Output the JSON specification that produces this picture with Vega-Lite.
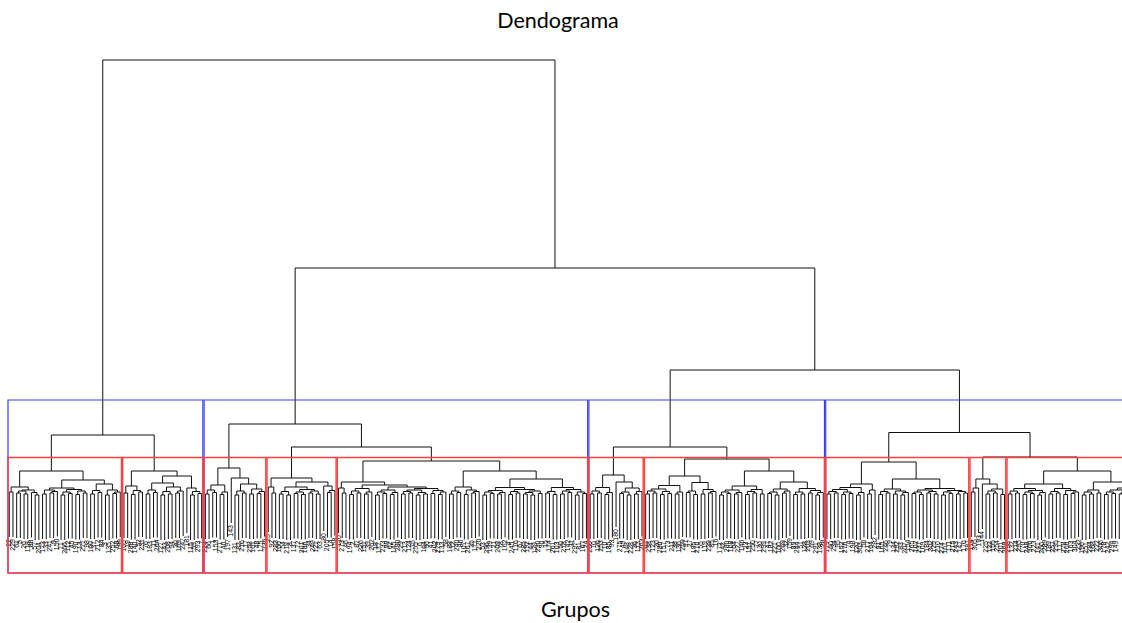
{
"$schema":"https://vega.github.io/schema/vega-lite/v6.json",
"width":1122,"height":623,"autosize":"none","padding":0,
"background":"white",
"config":{"view":{"stroke":null}},
"title":{"text":"Dendograma","font":"Lato","fontSize":21.5,"fontWeight":"normal","color":"#000000","anchor":"middle","frame":"group","offset":-32,"dx":-3},
"datasets":{
"fusoes":[
{"x1":1,"x2":2,"h":4.8,"h1":0.3,"h2":0.3,"r1":"22","r2":"229"},
{"x1":3,"x2":4,"h":4.7,"h1":0.2,"h2":0.2,"r1":"61","r2":"5"},
{"x1":5,"x2":6,"h":4.6,"h1":0.1,"h2":0.1,"r1":"26","r2":"118"},
{"x1":3.5,"x2":5.5,"h":4.9,"h1":4.7,"h2":4.6},
{"x1":8,"x2":9,"h":4.5,"h1":0,"h2":0,"r1":"57","r2":"204"},
{"x1":7,"x2":8.5,"h":4.75,"h1":0.25,"h2":4.5,"r1":"88"},
{"x1":4.5,"x2":7.75,"h":5.0,"h1":4.9,"h2":4.75},
{"x1":1.5,"x2":6.125,"h":5.3,"h1":4.8,"h2":5.0},
{"x1":10,"x2":11,"h":4.6,"h1":0.1,"h2":0.1,"r1":"173","r2":"33"},
{"x1":12,"x2":13,"h":4.7,"h1":0.2,"h2":0.2,"r1":"241","r2":"9"},
{"x1":12.5,"x2":14,"h":4.85,"h1":4.7,"h2":0.35,"r2":"150"},
{"x1":10.5,"x2":13.25,"h":5.0,"h1":4.6,"h2":4.85},
{"x1":15,"x2":16,"h":4.5,"h1":0,"h2":0,"r1":"71","r2":"266"},
{"x1":17,"x2":18,"h":4.65,"h1":0.15,"h2":0.15,"r1":"112","r2":"45"},
{"x1":15.5,"x2":17.5,"h":4.8,"h1":4.5,"h2":4.65},
{"x1":19,"x2":20,"h":4.55,"h1":0.05,"h2":0.05,"r1":"190","r2":"13"},
{"x1":21,"x2":22,"h":4.7,"h1":0.2,"h2":0.2,"r1":"277","r2":"98"},
{"x1":19.5,"x2":21.5,"h":4.9,"h1":4.55,"h2":4.7},
{"x1":16.5,"x2":20.5,"h":5.05,"h1":4.8,"h2":4.9},
{"x1":11.875,"x2":18.5,"h":5.2,"h1":5.0,"h2":5.05},
{"x1":23,"x2":24,"h":4.6,"h1":0.1,"h2":0.1,"r1":"160","r2":"37"},
{"x1":25,"x2":26,"h":4.75,"h1":0.25,"h2":0.25,"r1":"212","r2":"84"},
{"x1":23.5,"x2":25.5,"h":4.95,"h1":4.6,"h2":4.75},
{"x1":27,"x2":28,"h":4.5,"h1":0,"h2":0,"r1":"3","r2":"135"},
{"x1":29,"x2":30,"h":4.65,"h1":0.15,"h2":0.15,"r1":"252","r2":"68"},
{"x1":29.5,"x2":31,"h":4.8,"h1":4.65,"h2":0.3,"r2":"199"},
{"x1":27.5,"x2":30.25,"h":5.0,"h1":4.5,"h2":4.8},
{"x1":24.5,"x2":28.875,"h":5.6,"h1":4.95,"h2":5.0},
{"x1":15.19,"x2":26.69,"h":6.0,"h1":5.2,"h2":5.6},
{"x1":3.81,"x2":20.94,"h":6.9,"h1":5.3,"h2":6.0},
{"x1":32,"x2":33,"h":4.7,"h1":0.2,"h2":0.2,"r1":"105","r2":"19"},
{"x1":34,"x2":35,"h":4.55,"h1":0.05,"h2":0.05,"r1":"288","r2":"140"},
{"x1":36,"x2":37,"h":4.8,"h1":0.3,"h2":0.3,"r1":"52","r2":"231"},
{"x1":34.5,"x2":36.5,"h":4.95,"h1":4.55,"h2":4.8},
{"x1":32.5,"x2":35.5,"h":5.4,"h1":4.7,"h2":4.95},
{"x1":38,"x2":39,"h":4.6,"h1":0.1,"h2":0.1,"r1":"76","r2":"183"},
{"x1":40,"x2":41,"h":4.75,"h1":0.25,"h2":0.25,"r1":"11","r2":"264"},
{"x1":38.5,"x2":40.5,"h":5.0,"h1":4.6,"h2":4.75},
{"x1":42,"x2":43,"h":4.5,"h1":0,"h2":0,"r1":"127","r2":"43"},
{"x1":44,"x2":45,"h":4.6,"h1":0.1,"h2":0.1,"r1":"208","r2":"94"},
{"x1":42.5,"x2":44.5,"h":4.85,"h1":4.5,"h2":4.6},
{"x1":46,"x2":47,"h":4.7,"h1":0.2,"h2":0.2,"r1":"30","r2":"169"},
{"x1":46.5,"x2":48,"h":4.9,"h1":4.7,"h2":0.4,"r2":"247"},
{"x1":43.5,"x2":47.25,"h":5.3,"h1":4.85,"h2":4.9},
{"x1":39.5,"x2":45.375,"h":5.7,"h1":5.0,"h2":5.3},
{"x1":50,"x2":51,"h":4.5,"h1":0,"h2":0,"r1":"115","r2":"59"},
{"x1":52,"x2":53,"h":4.65,"h1":0.15,"h2":0.15,"r1":"293","r2":"7"},
{"x1":50.5,"x2":52.5,"h":4.85,"h1":4.5,"h2":4.65},
{"x1":49,"x2":51.5,"h":5.2,"h1":0.7,"h2":4.85,"r1":"181"},
{"x1":42.44,"x2":50.25,"h":6.4,"h1":5.7,"h2":5.2},
{"x1":34,"x2":46.35,"h":6.9,"h1":5.4,"h2":6.4},
{"x1":12.375,"x2":40.17,"h":10.5,"h1":6.9,"h2":6.9},
{"x1":54,"x2":55,"h":4.6,"h1":0.1,"h2":0.1,"r1":"224","r2":"66"},
{"x1":56,"x2":57,"h":4.75,"h1":0.25,"h2":0.25,"r1":"1","r2":"153"},
{"x1":54.5,"x2":56.5,"h":5.0,"h1":4.6,"h2":4.75},
{"x1":58,"x2":59,"h":4.55,"h1":0.05,"h2":0.05,"r1":"271","r2":"40"},
{"x1":58.5,"x2":60,"h":4.8,"h1":4.55,"h2":0.3,"r2":"197"},
{"x1":55.5,"x2":59.25,"h":5.5,"h1":5.0,"h2":4.8},
{"x1":62,"x2":63,"h":4.5,"h1":0,"h2":0,"r1":"131","r2":"82"},
{"x1":64,"x2":65,"h":4.7,"h1":0.2,"h2":0.2,"r1":"216","r2":"17"},
{"x1":62.5,"x2":64.5,"h":4.9,"h1":4.5,"h2":4.7},
{"x1":66,"x2":67,"h":4.6,"h1":0.1,"h2":0.1,"r1":"258","r2":"101"},
{"x1":68,"x2":69,"h":4.65,"h1":0.15,"h2":0.15,"r1":"48","r2":"175"},
{"x1":68.5,"x2":70,"h":4.85,"h1":4.65,"h2":0.35,"r2":"236"},
{"x1":66.5,"x2":69.25,"h":5.1,"h1":4.6,"h2":4.85},
{"x1":63.5,"x2":67.875,"h":5.6,"h1":4.9,"h2":5.1},
{"x1":61,"x2":65.69,"h":6.2,"h1":1.7,"h2":5.6,"r1":"143"},
{"x1":57.375,"x2":63.35,"h":7.2,"h1":5.5,"h2":6.2},
{"x1":72,"x2":73,"h":4.7,"h1":0.2,"h2":0.2,"r1":"92","r2":"283"},
{"x1":71,"x2":72.5,"h":5.3,"h1":0.8,"h2":4.7,"r1":"25"},
{"x1":74,"x2":75,"h":4.6,"h1":0.1,"h2":0.1,"r1":"166","r2":"54"},
{"x1":76,"x2":77,"h":4.5,"h1":0,"h2":0,"r1":"219","r2":"8"},
{"x1":74.5,"x2":76.5,"h":4.85,"h1":4.6,"h2":4.5},
{"x1":78,"x2":79,"h":4.65,"h1":0.15,"h2":0.15,"r1":"137","r2":"72"},
{"x1":80,"x2":81,"h":4.55,"h1":0.05,"h2":0.05,"r1":"301","r2":"186"},
{"x1":78.5,"x2":80.5,"h":4.8,"h1":4.65,"h2":4.55},
{"x1":82,"x2":83,"h":4.7,"h1":0.2,"h2":0.2,"r1":"34","r2":"249"},
{"x1":84,"x2":85,"h":4.6,"h1":0.1,"h2":0.1,"r1":"121","r2":"63"},
{"x1":82.5,"x2":84.5,"h":4.9,"h1":4.7,"h2":4.6},
{"x1":79.5,"x2":83.5,"h":5.05,"h1":4.8,"h2":4.9},
{"x1":75.5,"x2":81.5,"h":5.3,"h1":4.85,"h2":5.05},
{"x1":87,"x2":88,"h":4.75,"h1":0.25,"h2":0.25,"r1":"205","r2":"14"},
{"x1":87.5,"x2":89,"h":4.95,"h1":4.75,"h2":0.45,"r2":"158"},
{"x1":86,"x2":88.25,"h":5.4,"h1":0.9,"h2":4.95,"r1":"80"},
{"x1":78.5,"x2":87.125,"h":5.8,"h1":5.3,"h2":5.4},
{"x1":71.75,"x2":82.81,"h":6.2,"h1":5.3,"h2":5.8},
{"x1":91,"x2":92,"h":4.7,"h1":0.2,"h2":0.2,"r1":"273","r2":"46"},
{"x1":90,"x2":91.5,"h":5.2,"h1":0.7,"h2":4.7,"r1":"110"},
{"x1":93,"x2":94,"h":4.55,"h1":0.05,"h2":0.05,"r1":"194","r2":"2"},
{"x1":95,"x2":96,"h":4.7,"h1":0.2,"h2":0.2,"r1":"87","r2":"226"},
{"x1":93.5,"x2":95.5,"h":4.9,"h1":4.55,"h2":4.7},
{"x1":97,"x2":98,"h":4.6,"h1":0.1,"h2":0.1,"r1":"151","r2":"39"},
{"x1":97.5,"x2":99,"h":4.8,"h1":4.6,"h2":0.3,"r2":"262"},
{"x1":94.5,"x2":98.25,"h":5.15,"h1":4.9,"h2":4.8},
{"x1":100,"x2":101,"h":4.5,"h1":0,"h2":0,"r1":"18","r2":"177"},
{"x1":102,"x2":103,"h":4.65,"h1":0.15,"h2":0.15,"r1":"233","r2":"99"},
{"x1":100.5,"x2":102.5,"h":4.8,"h1":4.5,"h2":4.65},
{"x1":104,"x2":105,"h":4.55,"h1":0.05,"h2":0.05,"r1":"62","r2":"145"},
{"x1":104.5,"x2":106,"h":4.75,"h1":4.55,"h2":0.25,"r2":"290"},
{"x1":101.5,"x2":105.25,"h":5.0,"h1":4.8,"h2":4.75},
{"x1":107,"x2":108,"h":4.6,"h1":0.1,"h2":0.1,"r1":"29","r2":"213"},
{"x1":109,"x2":110,"h":4.7,"h1":0.2,"h2":0.2,"r1":"124","r2":"75"},
{"x1":107.5,"x2":109.5,"h":4.85,"h1":4.6,"h2":4.7},
{"x1":111,"x2":112,"h":4.5,"h1":0,"h2":0,"r1":"255","r2":"6"},
{"x1":113,"x2":114,"h":4.6,"h1":0.1,"h2":0.1,"r1":"164","r2":"96"},
{"x1":111.5,"x2":113.5,"h":4.75,"h1":4.5,"h2":4.6},
{"x1":108.5,"x2":112.5,"h":5.0,"h1":4.85,"h2":4.75},
{"x1":115,"x2":116,"h":4.65,"h1":0.15,"h2":0.15,"r1":"41","r2":"202"},
{"x1":117,"x2":118,"h":4.55,"h1":0.05,"h2":0.05,"r1":"279","r2":"133"},
{"x1":117.5,"x2":119,"h":4.8,"h1":4.55,"h2":0.3,"r2":"58"},
{"x1":115.5,"x2":118.25,"h":4.95,"h1":4.65,"h2":4.8},
{"x1":110.5,"x2":116.875,"h":5.15,"h1":5.0,"h2":4.95},
{"x1":103.375,"x2":113.69,"h":5.3,"h1":5.0,"h2":5.15},
{"x1":96.375,"x2":108.53,"h":5.5,"h1":5.15,"h2":5.3},
{"x1":90.75,"x2":102.45,"h":5.8,"h1":5.2,"h2":5.5},
{"x1":120,"x2":121,"h":4.6,"h1":0.1,"h2":0.1,"r1":"188","r2":"12"},
{"x1":122,"x2":123,"h":4.75,"h1":0.25,"h2":0.25,"r1":"240","r2":"86"},
{"x1":120.5,"x2":122.5,"h":4.9,"h1":4.6,"h2":4.75},
{"x1":124,"x2":125,"h":4.55,"h1":0.05,"h2":0.05,"r1":"107","r2":"267"},
{"x1":126,"x2":127,"h":4.7,"h1":0.2,"h2":0.2,"r1":"35","r2":"171"},
{"x1":126.5,"x2":128,"h":4.85,"h1":4.7,"h2":0.35,"r2":"220"},
{"x1":124.5,"x2":127.25,"h":5.0,"h1":4.55,"h2":4.85},
{"x1":121.5,"x2":125.875,"h":5.3,"h1":4.9,"h2":5.0},
{"x1":129,"x2":130,"h":4.5,"h1":0,"h2":0,"r1":"53","r2":"296"},
{"x1":131,"x2":132,"h":4.65,"h1":0.15,"h2":0.15,"r1":"139","r2":"21"},
{"x1":129.5,"x2":131.5,"h":4.8,"h1":4.5,"h2":4.65},
{"x1":133,"x2":134,"h":4.6,"h1":0.1,"h2":0.1,"r1":"209","r2":"78"},
{"x1":133.5,"x2":135,"h":4.75,"h1":4.6,"h2":0.25,"r2":"162"},
{"x1":130.5,"x2":134.25,"h":4.95,"h1":4.8,"h2":4.75},
{"x1":136,"x2":137,"h":4.55,"h1":0.05,"h2":0.05,"r1":"4","r2":"245"},
{"x1":138,"x2":139,"h":4.7,"h1":0.2,"h2":0.2,"r1":"116","r2":"67"},
{"x1":136.5,"x2":138.5,"h":4.85,"h1":4.55,"h2":4.7},
{"x1":140,"x2":141,"h":4.6,"h1":0.1,"h2":0.1,"r1":"285","r2":"192"},
{"x1":142,"x2":143,"h":4.5,"h1":0,"h2":0,"r1":"44","r2":"129"},
{"x1":140.5,"x2":142.5,"h":4.75,"h1":4.6,"h2":4.5},
{"x1":144,"x2":145,"h":4.65,"h1":0.15,"h2":0.15,"r1":"230","r2":"90"},
{"x1":141.5,"x2":144.5,"h":4.9,"h1":4.75,"h2":4.65},
{"x1":137.5,"x2":143,"h":5.05,"h1":4.85,"h2":4.9},
{"x1":132.375,"x2":140.25,"h":5.25,"h1":4.95,"h2":5.05},
{"x1":146,"x2":147,"h":4.7,"h1":0.2,"h2":0.2,"r1":"15","r2":"174"},
{"x1":148,"x2":149,"h":4.55,"h1":0.05,"h2":0.05,"r1":"261","r2":"103"},
{"x1":146.5,"x2":148.5,"h":4.85,"h1":4.7,"h2":4.55},
{"x1":150,"x2":151,"h":4.6,"h1":0.1,"h2":0.1,"r1":"50","r2":"218"},
{"x1":152,"x2":153,"h":4.75,"h1":0.25,"h2":0.25,"r1":"142","r2":"31"},
{"x1":150.5,"x2":152.5,"h":4.9,"h1":4.6,"h2":4.75},
{"x1":154,"x2":155,"h":4.5,"h1":0,"h2":0,"r1":"297","r2":"81"},
{"x1":156,"x2":157,"h":4.65,"h1":0.15,"h2":0.15,"r1":"167","r2":"24"},
{"x1":154.5,"x2":156.5,"h":4.8,"h1":4.5,"h2":4.65},
{"x1":151.5,"x2":155.5,"h":5.05,"h1":4.9,"h2":4.8},
{"x1":147.5,"x2":153.5,"h":5.25,"h1":4.85,"h2":5.05},
{"x1":136.31,"x2":150.5,"h":6.1,"h1":5.25,"h2":5.25},
{"x1":123.69,"x2":143.41,"h":6.9,"h1":5.3,"h2":6.1},
{"x1":96.6,"x2":133.55,"h":7.9,"h1":5.8,"h2":6.9},
{"x1":77.28,"x2":115.08,"h":9.3,"h1":6.2,"h2":7.9},
{"x1":60.36,"x2":96.18,"h":11.6,"h1":7.2,"h2":9.3},
{"x1":158,"x2":159,"h":4.6,"h1":0.1,"h2":0.1,"r1":"200","r2":"70"},
{"x1":160,"x2":161,"h":4.7,"h1":0.2,"h2":0.2,"r1":"126","r2":"253"},
{"x1":158.5,"x2":160.5,"h":4.9,"h1":4.6,"h2":4.7},
{"x1":162,"x2":163,"h":4.55,"h1":0.05,"h2":0.05,"r1":"10","r2":"185"},
{"x1":162.5,"x2":164,"h":4.75,"h1":4.55,"h2":0.25,"r2":"93"},
{"x1":159.5,"x2":163.25,"h":5.25,"h1":4.9,"h2":4.75},
{"x1":166,"x2":167,"h":4.65,"h1":0.15,"h2":0.15,"r1":"275","r2":"49"},
{"x1":168,"x2":169,"h":4.5,"h1":0,"h2":0,"r1":"148","r2":"228"},
{"x1":166.5,"x2":168.5,"h":4.8,"h1":4.65,"h2":4.5},
{"x1":170,"x2":171,"h":4.6,"h1":0.1,"h2":0.1,"r1":"36","r2":"113"},
{"x1":170.5,"x2":172,"h":4.85,"h1":4.6,"h2":0.35,"r2":"263"},
{"x1":167.5,"x2":171.25,"h":5.2,"h1":4.8,"h2":4.85},
{"x1":165,"x2":169.375,"h":5.8,"h1":1.3,"h2":5.2,"r1":"180"},
{"x1":161.375,"x2":167.19,"h":6.5,"h1":5.25,"h2":5.8},
{"x1":173,"x2":174,"h":4.6,"h1":0.1,"h2":0.1,"r1":"65","r2":"238"},
{"x1":175,"x2":176,"h":4.7,"h1":0.2,"h2":0.2,"r1":"123","r2":"20"},
{"x1":173.5,"x2":175.5,"h":4.9,"h1":4.6,"h2":4.7},
{"x1":177,"x2":178,"h":4.55,"h1":0.05,"h2":0.05,"r1":"286","r2":"157"},
{"x1":179,"x2":180,"h":4.65,"h1":0.15,"h2":0.15,"r1":"73","r2":"211"},
{"x1":177.5,"x2":179.5,"h":4.85,"h1":4.55,"h2":4.65},
{"x1":174.5,"x2":178.5,"h":5.1,"h1":4.9,"h2":4.85},
{"x1":181,"x2":182,"h":4.6,"h1":0.1,"h2":0.1,"r1":"38","r2":"136"},
{"x1":181.5,"x2":183,"h":4.8,"h1":4.6,"h2":0.3,"r2":"259"},
{"x1":176.5,"x2":182.25,"h":5.45,"h1":5.1,"h2":4.8},
{"x1":184,"x2":185,"h":4.75,"h1":0.25,"h2":0.25,"r1":"97","r2":"27"},
{"x1":186,"x2":187,"h":4.55,"h1":0.05,"h2":0.05,"r1":"195","r2":"270"},
{"x1":184.5,"x2":186.5,"h":4.9,"h1":4.75,"h2":4.55},
{"x1":188,"x2":189,"h":4.6,"h1":0.1,"h2":0.1,"r1":"55","r2":"119"},
{"x1":190,"x2":191,"h":4.7,"h1":0.2,"h2":0.2,"r1":"239","r2":"85"},
{"x1":190.5,"x2":192,"h":4.85,"h1":4.7,"h2":0.35,"r2":"16"},
{"x1":188.5,"x2":191.25,"h":5.05,"h1":4.6,"h2":4.85},
{"x1":185.5,"x2":189.875,"h":5.75,"h1":4.9,"h2":5.05},
{"x1":179.375,"x2":187.69,"h":6.4,"h1":5.45,"h2":5.75},
{"x1":193,"x2":194,"h":4.5,"h1":0,"h2":0,"r1":"172","r2":"42"},
{"x1":195,"x2":196,"h":4.65,"h1":0.15,"h2":0.15,"r1":"280","r2":"108"},
{"x1":193.5,"x2":195.5,"h":4.8,"h1":4.5,"h2":4.65},
{"x1":197,"x2":198,"h":4.6,"h1":0.1,"h2":0.1,"r1":"64","r2":"227"},
{"x1":197.5,"x2":199,"h":4.75,"h1":4.6,"h2":0.25,"r2":"146"},
{"x1":194.5,"x2":198.25,"h":5.0,"h1":4.8,"h2":4.75},
{"x1":200,"x2":201,"h":4.55,"h1":0.05,"h2":0.05,"r1":"23","r2":"191"},
{"x1":202,"x2":203,"h":4.7,"h1":0.2,"h2":0.2,"r1":"250","r2":"77"},
{"x1":200.5,"x2":202.5,"h":4.85,"h1":4.55,"h2":4.7},
{"x1":204,"x2":205,"h":4.6,"h1":0.1,"h2":0.1,"r1":"130","r2":"299"},
{"x1":201.5,"x2":204.5,"h":5.05,"h1":4.85,"h2":4.6},
{"x1":196.375,"x2":203,"h":5.4,"h1":5.0,"h2":5.05},
{"x1":206,"x2":207,"h":4.65,"h1":0.15,"h2":0.15,"r1":"47","r2":"182"},
{"x1":208,"x2":209,"h":4.5,"h1":0,"h2":0,"r1":"221","r2":"100"},
{"x1":206.5,"x2":208.5,"h":4.8,"h1":4.65,"h2":4.5},
{"x1":210,"x2":211,"h":4.7,"h1":0.2,"h2":0.2,"r1":"269","r2":"32"},
{"x1":210.5,"x2":212,"h":4.9,"h1":4.7,"h2":0.4,"r2":"159"},
{"x1":207.5,"x2":211.25,"h":5.1,"h1":4.8,"h2":4.9},
{"x1":213,"x2":214,"h":4.55,"h1":0.05,"h2":0.05,"r1":"89","r2":"244"},
{"x1":215,"x2":216,"h":4.6,"h1":0.1,"h2":0.1,"r1":"51","r2":"128"},
{"x1":213.5,"x2":215.5,"h":4.8,"h1":4.55,"h2":4.6},
{"x1":217,"x2":218,"h":4.7,"h1":0.2,"h2":0.2,"r1":"203","r2":"69"},
{"x1":219,"x2":220,"h":4.5,"h1":0,"h2":0,"r1":"291","r2":"138"},
{"x1":219.5,"x2":221,"h":4.75,"h1":4.5,"h2":0.25,"r2":"28"},
{"x1":217.5,"x2":220.25,"h":4.95,"h1":4.7,"h2":4.75},
{"x1":214.5,"x2":218.875,"h":5.15,"h1":4.8,"h2":4.95},
{"x1":209.375,"x2":216.69,"h":5.8,"h1":5.1,"h2":5.15},
{"x1":199.69,"x2":213.03,"h":6.9,"h1":5.4,"h2":5.8},
{"x1":183.53,"x2":206.36,"h":8.1,"h1":6.4,"h2":6.9},
{"x1":164.28,"x2":194.95,"h":9.3,"h1":6.5,"h2":8.1},
{"x1":222,"x2":223,"h":4.6,"h1":0.1,"h2":0.1,"r1":"179","r2":"60"},
{"x1":224,"x2":225,"h":4.7,"h1":0.2,"h2":0.2,"r1":"234","r2":"95"},
{"x1":222.5,"x2":224.5,"h":4.85,"h1":4.6,"h2":4.7},
{"x1":226,"x2":227,"h":4.55,"h1":0.05,"h2":0.05,"r1":"152","r2":"276"},
{"x1":228,"x2":229,"h":4.65,"h1":0.15,"h2":0.15,"r1":"74","r2":"198"},
{"x1":226.5,"x2":228.5,"h":4.8,"h1":4.55,"h2":4.65},
{"x1":223.5,"x2":227.5,"h":5.05,"h1":4.85,"h2":4.8},
{"x1":230,"x2":231,"h":4.5,"h1":0,"h2":0,"r1":"120","r2":"303"},
{"x1":230.5,"x2":232,"h":4.75,"h1":4.5,"h2":0.25,"r2":"56"},
{"x1":225.5,"x2":231.25,"h":5.25,"h1":5.05,"h2":4.75},
{"x1":233,"x2":234,"h":4.6,"h1":0.1,"h2":0.1,"r1":"217","r2":"104"},
{"x1":233.5,"x2":235,"h":5.0,"h1":4.6,"h2":0.5,"r2":"282"},
{"x1":228.375,"x2":234.25,"h":5.6,"h1":5.25,"h2":5.0},
{"x1":236,"x2":237,"h":4.55,"h1":0.05,"h2":0.05,"r1":"91","r2":"165"},
{"x1":238,"x2":239,"h":4.7,"h1":0.2,"h2":0.2,"r1":"246","r2":"79"},
{"x1":236.5,"x2":238.5,"h":4.85,"h1":4.55,"h2":4.7},
{"x1":240,"x2":241,"h":4.6,"h1":0.1,"h2":0.1,"r1":"134","r2":"292"},
{"x1":242,"x2":243,"h":4.5,"h1":0,"h2":0,"r1":"83","r2":"207"},
{"x1":242.5,"x2":244,"h":4.75,"h1":4.5,"h2":0.25,"r2":"154"},
{"x1":240.5,"x2":243.25,"h":4.9,"h1":4.6,"h2":4.75},
{"x1":237.5,"x2":241.875,"h":5.1,"h1":4.85,"h2":4.9},
{"x1":245,"x2":246,"h":4.65,"h1":0.15,"h2":0.15,"r1":"265","r2":"102"},
{"x1":247,"x2":248,"h":4.55,"h1":0.05,"h2":0.05,"r1":"237","r2":"109"},
{"x1":245.5,"x2":247.5,"h":4.8,"h1":4.65,"h2":4.55},
{"x1":249,"x2":250,"h":4.7,"h1":0.2,"h2":0.2,"r1":"184","r2":"302"},
{"x1":251,"x2":252,"h":4.6,"h1":0.1,"h2":0.1,"r1":"125","r2":"210"},
{"x1":249.5,"x2":251.5,"h":4.85,"h1":4.7,"h2":4.6},
{"x1":246.5,"x2":250.5,"h":5.0,"h1":4.8,"h2":4.85},
{"x1":253,"x2":254,"h":4.5,"h1":0,"h2":0,"r1":"274","r2":"161"},
{"x1":255,"x2":256,"h":4.65,"h1":0.15,"h2":0.15,"r1":"111","r2":"215"},
{"x1":253.5,"x2":255.5,"h":4.8,"h1":4.5,"h2":4.65},
{"x1":257,"x2":258,"h":4.6,"h1":0.1,"h2":0.1,"r1":"243","r2":"147"},
{"x1":259,"x2":260,"h":4.7,"h1":0.2,"h2":0.2,"r1":"176","r2":"287"},
{"x1":257.5,"x2":259.5,"h":4.85,"h1":4.6,"h2":4.7},
{"x1":254.5,"x2":258.5,"h":4.95,"h1":4.8,"h2":4.85},
{"x1":248.5,"x2":256.5,"h":5.15,"h1":5.0,"h2":4.95},
{"x1":239.69,"x2":252.5,"h":6.1,"h1":5.1,"h2":5.15},
{"x1":231.31,"x2":246.1,"h":7.8,"h1":5.6,"h2":6.1},
{"x1":261,"x2":262,"h":4.8,"h1":0.3,"h2":0.3,"r1":"114","r2":"305"},
{"x1":261.5,"x2":263,"h":5.2,"h1":4.8,"h2":0.7,"r2":"193"},
{"x1":265,"x2":266,"h":4.6,"h1":0.1,"h2":0.1,"r1":"225","r2":"122"},
{"x1":267,"x2":268,"h":4.7,"h1":0.2,"h2":0.2,"r1":"155","r2":"254"},
{"x1":265.5,"x2":267.5,"h":4.9,"h1":4.6,"h2":4.7},
{"x1":269,"x2":270,"h":4.55,"h1":0.05,"h2":0.05,"r1":"201","r2":"268"},
{"x1":266.5,"x2":269.5,"h":5.1,"h1":4.9,"h2":4.55},
{"x1":264,"x2":268,"h":5.6,"h1":1.1,"h2":5.1,"r1":"144"},
{"x1":262.25,"x2":266,"h":6.1,"h1":5.2,"h2":5.6},
{"x1":271,"x2":272,"h":4.6,"h1":0.1,"h2":0.1,"r1":"298","r2":"132"},
{"x1":273,"x2":274,"h":4.7,"h1":0.2,"h2":0.2,"r1":"214","r2":"295"},
{"x1":271.5,"x2":273.5,"h":4.9,"h1":4.6,"h2":4.7},
{"x1":275,"x2":276,"h":4.55,"h1":0.05,"h2":0.05,"r1":"170","r2":"248"},
{"x1":277,"x2":278,"h":4.65,"h1":0.15,"h2":0.15,"r1":"300","r2":"223"},
{"x1":275.5,"x2":277.5,"h":4.8,"h1":4.55,"h2":4.65},
{"x1":279,"x2":280,"h":4.5,"h1":0,"h2":0,"r1":"141","r2":"260"},
{"x1":279.5,"x2":281,"h":4.75,"h1":4.5,"h2":0.25,"r2":"289"},
{"x1":276.5,"x2":280.25,"h":4.95,"h1":4.8,"h2":4.75},
{"x1":272.5,"x2":278.375,"h":5.15,"h1":4.9,"h2":4.95},
{"x1":282,"x2":283,"h":4.6,"h1":0.1,"h2":0.1,"r1":"189","r2":"257"},
{"x1":284,"x2":285,"h":4.7,"h1":0.2,"h2":0.2,"r1":"235","r2":"117"},
{"x1":282.5,"x2":284.5,"h":4.85,"h1":4.6,"h2":4.7},
{"x1":286,"x2":287,"h":4.55,"h1":0.05,"h2":0.05,"r1":"278","r2":"206"},
{"x1":288,"x2":289,"h":4.65,"h1":0.15,"h2":0.15,"r1":"163","r2":"304"},
{"x1":288.5,"x2":290,"h":4.8,"h1":4.65,"h2":0.3,"r2":"232"},
{"x1":286.5,"x2":289.25,"h":4.95,"h1":4.55,"h2":4.8},
{"x1":283.5,"x2":287.875,"h":5.15,"h1":4.85,"h2":4.95},
{"x1":275.44,"x2":285.69,"h":5.6,"h1":5.15,"h2":5.15},
{"x1":291,"x2":292,"h":4.5,"h1":0,"h2":0,"r1":"196","r2":"251"},
{"x1":293,"x2":294,"h":4.6,"h1":0.1,"h2":0.1,"r1":"284","r2":"168"},
{"x1":291.5,"x2":293.5,"h":4.8,"h1":4.5,"h2":4.6},
{"x1":295,"x2":296,"h":4.7,"h1":0.2,"h2":0.2,"r1":"222","r2":"306"},
{"x1":292.5,"x2":295.5,"h":5.0,"h1":4.8,"h2":4.7},
{"x1":297,"x2":298,"h":4.55,"h1":0.05,"h2":0.05,"r1":"178","r2":"242"},
{"x1":299,"x2":300,"h":4.65,"h1":0.15,"h2":0.15,"r1":"294","r2":"149"},
{"x1":297.5,"x2":299.5,"h":4.8,"h1":4.55,"h2":4.65},
{"x1":301,"x2":302,"h":4.6,"h1":0.1,"h2":0.1},
{"x1":303,"x2":304,"h":4.5,"h1":0,"h2":0},
{"x1":301.5,"x2":303.5,"h":4.75,"h1":4.6,"h2":4.5},
{"x1":298.5,"x2":302.5,"h":5.0,"h1":4.8,"h2":4.75},
{"x1":305,"x2":306,"h":4.7,"h1":0.2,"h2":0.2},
{"x1":307,"x2":308,"h":4.6,"h1":0.1,"h2":0.1},
{"x1":305.5,"x2":307.5,"h":4.9,"h1":4.7,"h2":4.6},
{"x1":300.5,"x2":306.5,"h":5.2,"h1":5.0,"h2":4.9},
{"x1":294,"x2":303.5,"h":5.8,"h1":5.0,"h2":5.2},
{"x1":280.57,"x2":298.75,"h":6.9,"h1":5.6,"h2":5.8},
{"x1":264.125,"x2":289.66,"h":8.3,"h1":6.1,"h2":6.9},
{"x1":238.7,"x2":276.89,"h":10.75,"h1":7.8,"h2":8.3},
{"x1":179.62,"x2":257.8,"h":17.0,"h1":9.3,"h2":10.75},
{"x1":78.27,"x2":218.71,"h":27.2,"h1":11.6,"h2":17.0},
{"x1":26.27,"x2":148.49,"h":48,"h1":10.5,"h2":27.2}
],
"grupos4":[
{"grupo":1,"ini":0.66,"fim":53.33,"topo":14,"base":-3.3},
{"grupo":2,"ini":53.66,"fim":157.33,"topo":14,"base":-3.3},
{"grupo":3,"ini":157.66,"fim":221.33,"topo":14,"base":-3.3},
{"grupo":4,"ini":221.66,"fim":308.33,"topo":14,"base":-3.3}
],
"grupos10":[
{"grupo":1,"ini":0.66,"fim":31.33,"topo":8.25,"base":-3.3},
{"grupo":2,"ini":31.66,"fim":53.33,"topo":8.25,"base":-3.3},
{"grupo":3,"ini":53.66,"fim":70.33,"topo":8.25,"base":-3.3},
{"grupo":4,"ini":70.66,"fim":89.33,"topo":8.25,"base":-3.3},
{"grupo":5,"ini":89.66,"fim":157.33,"topo":8.25,"base":-3.3},
{"grupo":6,"ini":157.66,"fim":172.33,"topo":8.25,"base":-3.3},
{"grupo":7,"ini":172.66,"fim":221.33,"topo":8.25,"base":-3.3},
{"grupo":8,"ini":221.66,"fim":260.33,"topo":8.25,"base":-3.3},
{"grupo":9,"ini":260.66,"fim":270.33,"topo":8.25,"base":-3.3},
{"grupo":10,"ini":270.66,"fim":308.33,"topo":8.25,"base":-3.3}
]
},
"layer":[
{"data":{"name":"fusoes"},"mark":{"type":"rule","color":"#111111","strokeWidth":1,"clip":true},
 "encoding":{
  "x":{"field":"x1","type":"quantitative","scale":{"domain":[-1.503,301.74],"nice":false,"zero":false},"axis":{"orient":"bottom","domain":false,"ticks":false,"labels":false,"grid":false,"title":"Grupos","titleFont":"Lato","titleFontSize":21.5,"titleFontWeight":"normal","titleColor":"#000000","titleX":575,"titleY":-7,"titleBaseline":"alphabetic","titleAlign":"center","titleAnchor":null}},
  "x2":{"field":"x2"},
  "y":{"field":"h","type":"quantitative","scale":{"domain":[-8.3,54],"nice":false,"zero":false},"axis":null}}},
{"data":{"name":"fusoes"},"mark":{"type":"rule","color":"#111111","strokeWidth":1,"clip":true},
 "encoding":{
  "x":{"field":"x1","type":"quantitative","scale":{"domain":[-1.503,301.74],"nice":false,"zero":false},"axis":{"orient":"bottom","domain":false,"ticks":false,"labels":false,"grid":false,"title":"Grupos","titleFont":"Lato","titleFontSize":21.5,"titleFontWeight":"normal","titleColor":"#000000","titleX":575,"titleY":-7,"titleBaseline":"alphabetic","titleAlign":"center","titleAnchor":null}},
  "y":{"field":"h1","type":"quantitative","scale":{"domain":[-8.3,54],"nice":false,"zero":false},"axis":null},
  "y2":{"field":"h"}}},
{"data":{"name":"fusoes"},"mark":{"type":"rule","color":"#111111","strokeWidth":1,"clip":true},
 "encoding":{
  "x":{"field":"x2","type":"quantitative","scale":{"domain":[-1.503,301.74],"nice":false,"zero":false},"axis":{"orient":"bottom","domain":false,"ticks":false,"labels":false,"grid":false,"title":"Grupos","titleFont":"Lato","titleFontSize":21.5,"titleFontWeight":"normal","titleColor":"#000000","titleX":575,"titleY":-7,"titleBaseline":"alphabetic","titleAlign":"center","titleAnchor":null}},
  "y":{"field":"h2","type":"quantitative","scale":{"domain":[-8.3,54],"nice":false,"zero":false},"axis":null},
  "y2":{"field":"h"}}},
{"data":{"name":"fusoes"},"transform":[{"filter":"isValid(datum.r1)"}],
 "mark":{"type":"text","angle":270,"align":"right","baseline":"middle","dx":-2,"fontSize":7,"font":"Liberation Sans","color":"#000000","clip":true},
 "encoding":{
  "x":{"field":"x1","type":"quantitative","scale":{"domain":[-1.503,301.74],"nice":false,"zero":false},"axis":{"orient":"bottom","domain":false,"ticks":false,"labels":false,"grid":false,"title":"Grupos","titleFont":"Lato","titleFontSize":21.5,"titleFontWeight":"normal","titleColor":"#000000","titleX":575,"titleY":-7,"titleBaseline":"alphabetic","titleAlign":"center","titleAnchor":null}},
  "y":{"field":"h1","type":"quantitative","scale":{"domain":[-8.3,54],"nice":false,"zero":false},"axis":null},
  "text":{"field":"r1"}}},
{"data":{"name":"fusoes"},"transform":[{"filter":"isValid(datum.r2)"}],
 "mark":{"type":"text","angle":270,"align":"right","baseline":"middle","dx":-2,"fontSize":7,"font":"Liberation Sans","color":"#000000","clip":true},
 "encoding":{
  "x":{"field":"x2","type":"quantitative","scale":{"domain":[-1.503,301.74],"nice":false,"zero":false},"axis":{"orient":"bottom","domain":false,"ticks":false,"labels":false,"grid":false,"title":"Grupos","titleFont":"Lato","titleFontSize":21.5,"titleFontWeight":"normal","titleColor":"#000000","titleX":575,"titleY":-7,"titleBaseline":"alphabetic","titleAlign":"center","titleAnchor":null}},
  "y":{"field":"h2","type":"quantitative","scale":{"domain":[-8.3,54],"nice":false,"zero":false},"axis":null},
  "text":{"field":"r2"}}},
{"data":{"name":"grupos4"},"mark":{"type":"rect","fillOpacity":0,"stroke":"#3a3aff","strokeWidth":1.2,"clip":true},
 "encoding":{
  "x":{"field":"ini","type":"quantitative","scale":{"domain":[-1.503,301.74],"nice":false,"zero":false},"axis":{"orient":"bottom","domain":false,"ticks":false,"labels":false,"grid":false,"title":"Grupos","titleFont":"Lato","titleFontSize":21.5,"titleFontWeight":"normal","titleColor":"#000000","titleX":575,"titleY":-7,"titleBaseline":"alphabetic","titleAlign":"center","titleAnchor":null}},
  "x2":{"field":"fim"},
  "y":{"field":"topo","type":"quantitative","scale":{"domain":[-8.3,54],"nice":false,"zero":false},"axis":null},
  "y2":{"field":"base"}}},
{"data":{"name":"grupos10"},"mark":{"type":"rect","fillOpacity":0,"stroke":"#ff4040","strokeWidth":1.4,"clip":true},
 "encoding":{
  "x":{"field":"ini","type":"quantitative","scale":{"domain":[-1.503,301.74],"nice":false,"zero":false},"axis":{"orient":"bottom","domain":false,"ticks":false,"labels":false,"grid":false,"title":"Grupos","titleFont":"Lato","titleFontSize":21.5,"titleFontWeight":"normal","titleColor":"#000000","titleX":575,"titleY":-7,"titleBaseline":"alphabetic","titleAlign":"center","titleAnchor":null}},
  "x2":{"field":"fim"},
  "y":{"field":"topo","type":"quantitative","scale":{"domain":[-8.3,54],"nice":false,"zero":false},"axis":null},
  "y2":{"field":"base"}}}
]
}
